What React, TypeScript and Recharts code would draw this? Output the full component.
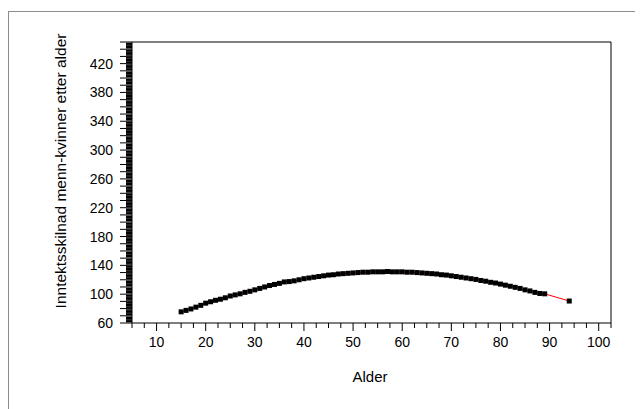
import { Label, Line, LineChart, ReferenceLine, XAxis, YAxis } from "recharts";

const AGES = [
  15, 16, 17, 18, 19, 20, 21, 22, 23, 24, 25, 26, 27, 28, 29, 30, 31, 32, 33, 34,
  35, 36, 37, 38, 39, 40, 41, 42, 43, 44, 45, 46, 47, 48, 49, 50, 51, 52, 53, 54,
  55, 56, 57, 58, 59, 60, 61, 62, 63, 64, 65, 66, 67, 68, 69, 70, 71, 72, 73, 74,
  75, 76, 77, 78, 79, 80, 81, 82, 83, 84, 85, 86, 87, 88, 89, 94,
];
const GAP = [
  75.5, 77.5, 79.5, 82, 84.5, 87.5, 89.5, 91.5, 93, 95, 97.5, 99, 100.5, 102.5, 104, 106, 108, 110, 112, 113.5,
  115, 117, 117.5, 118.5, 120, 121.5, 122.5, 123.5, 124.5, 125.5, 126.5, 127, 128, 128.5, 129, 129.5, 130, 130.5, 130.5, 131,
  131, 131, 131.5, 131, 131, 131, 130.5, 130.5, 130, 129.5, 129, 128.5, 128, 127, 126.5, 125.5, 124.5, 123.5, 122.5, 121.5,
  120.5, 119, 118, 116.5, 115.5, 114, 112.5, 111, 109.5, 108, 106, 104.5, 102.5, 101, 100.5, 90.5,
];
const X_LABELS = [10, 20, 30, 40, 50, 60, 70, 80, 90, 100];
const Y_LABELS = [60, 100, 140, 180, 220, 260, 300, 340, 380, 420];

// tick marks: every 2.5 on x, every 2 on y
const X_TICKS = Array.from({ length: 40 }, (_, i) => 5 + i * 2.5);
const Y_TICKS = Array.from({ length: 196 }, (_, i) => 60 + i * 2);

const data = AGES.map((age, i) => ({ age, gap: GAP[i] }));

const FONT = '"Liberation Sans", Arial, sans-serif';

function XTick({ x, y, payload }: any) {
  const v = payload.value;
  const major = v % 10 === 0;
  return (
    <g>
      <line x1={x} x2={x} y1={y} y2={y + (major ? 8 : 5)} stroke="#000" />
      {X_LABELS.includes(v) && (
        <text x={x} y={y + 24} textAnchor="middle" fontSize={14} fill="#000" fontFamily={FONT}>
          {v}
        </text>
      )}
    </g>
  );
}

function YTick({ x, y, payload }: any) {
  const v = payload.value;
  const major = (v - 60) % 10 === 0;
  return (
    <g>
      <line
        x1={x - (major ? 12 : 6)}
        x2={x}
        y1={y}
        y2={y}
        stroke="#000"
        strokeWidth={major ? 1 : 1.6}
      />
      {Y_LABELS.includes(v) && (
        <text x={x - 19} y={y} dy="0.36em" textAnchor="end" fontSize={14} fill="#000" fontFamily={FONT}>
          {v}
        </text>
      )}
    </g>
  );
}

export default function App() {
  return (
    <div style={{ paddingTop: 3 }}>
      <div style={{ border: "1px solid #8c8c8c", width: 640, height: 400, background: "#fff" }}>
        <LineChart width={630} height={390} data={data} margin={{ top: 30, right: 28, bottom: 19, left: 0 }}>
          <XAxis
            dataKey="age"
            type="number"
            domain={[5, 102.5]}
            ticks={X_TICKS}
            interval={0}
            tickSize={0}
            tickMargin={0}
            tickLine={false}
            tick={<XTick />}
            height={60}
            stroke="#000"
          >
            <Label
              content={() => (
                <text x={361} y={370} textAnchor="middle" fontSize={15} fill="#000" fontFamily={FONT}>
                  Alder
                </text>
              )}
            />
          </XAxis>
          <YAxis
            type="number"
            domain={[60, 450]}
            ticks={Y_TICKS}
            interval={0}
            tickSize={0}
            tickMargin={0}
            tickLine={false}
            tick={<YTick />}
            width={123}
            stroke="#000"
          >
            <Label
              content={() => (
                <text
                  x={57}
                  y={159}
                  transform="rotate(-90 57 159)"
                  textAnchor="middle"
                  fontSize={15.5}
                  fill="#000"
                  fontFamily={FONT}
                >
                  Inntektsskilnad menn-kvinner etter alder
                </text>
              )}
            />
          </YAxis>
          <ReferenceLine y={450} stroke="#000" />
          <ReferenceLine x={102.5} stroke="#000" />
          <Line
            dataKey="gap"
            type="linear"
            stroke="#ff0000"
            strokeWidth={1}
            isAnimationActive={false}
            dot={(p: any) => (
              <rect key={p.index} x={p.cx - 2.5} y={p.cy - 2.5} width={5} height={5} fill="#000" />
            )}
          />
        </LineChart>
      </div>
    </div>
  );
}
